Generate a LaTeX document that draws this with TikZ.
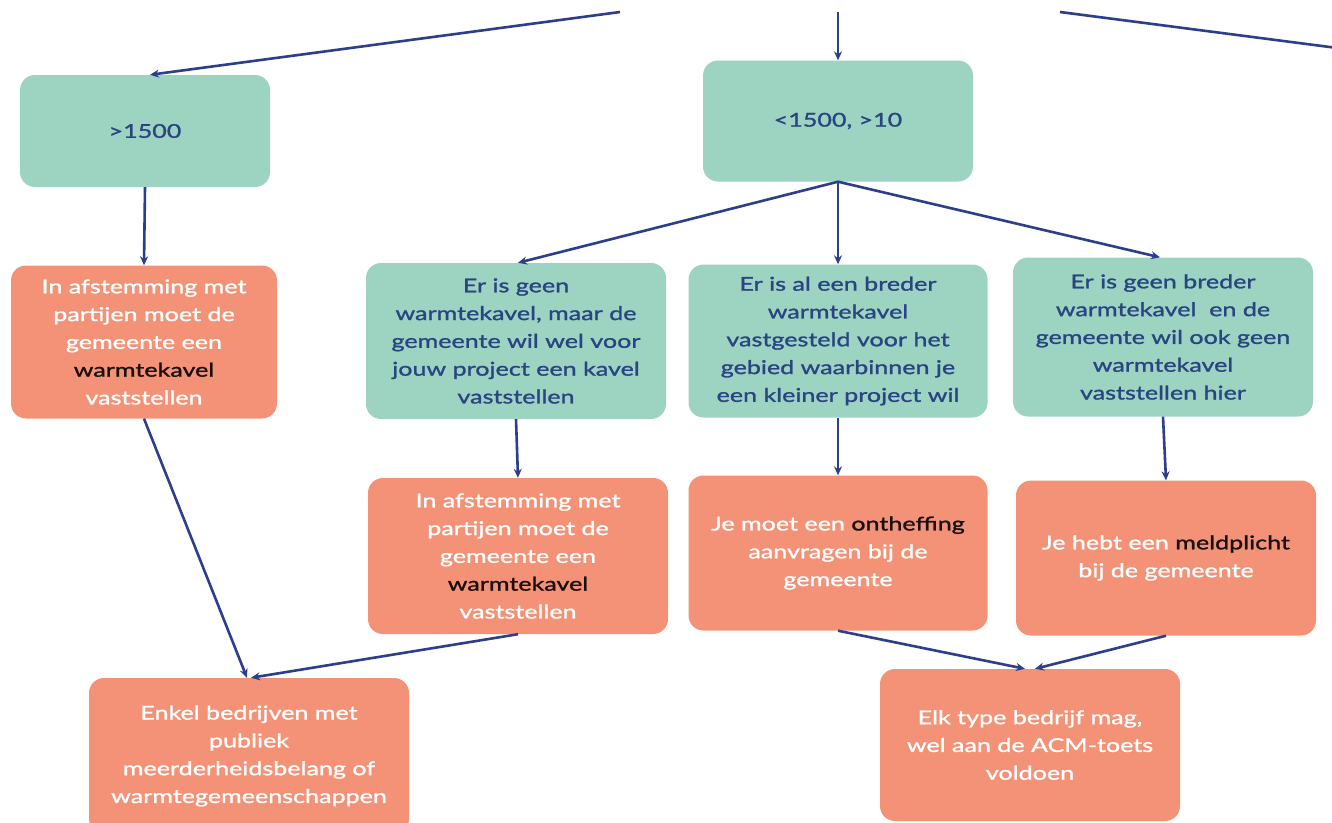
\documentclass[tikz,border=0pt]{standalone}
\usepackage{fontspec}
\setmainfont{Lato}[FakeStretch=1.32, FakeBold=1.3]
\usetikzlibrary{arrows.meta}
\definecolor{boxteal}{RGB}{157,212,193}
\definecolor{boxorange}{RGB}{243,146,118}
\definecolor{linkblue}{RGB}{45,62,140}
\definecolor{tealtext}{RGB}{40,68,130}
\definecolor{keytext}{RGB}{25,15,15}
\tikzset{
  box/.style={rounded corners=15pt, inner sep=0pt, align=center,
    font=\fontsize{19}{27.8}\selectfont},
  tealbox/.style={box, fill=boxteal, text=tealtext},
  orangebox/.style={box, fill=boxorange, text=white},
  link/.style={draw=linkblue, line width=2.6pt, -{Stealth[length=9pt,width=8pt]}},
}
\newcommand{\kw}[1]{\textcolor{keytext}{#1}}
\begin{document}
\begin{tikzpicture}[x=1pt,y=-1pt]
\useasboundingbox (0,0) rectangle (1332,822);
\clip (0,0) rectangle (1332,822);
\fill[white] (0,0) rectangle (1332,822);

\node[tealbox, minimum width=250pt, minimum height=112pt] (A) at (145,131) {>1500};
\node[tealbox, minimum width=270pt, minimum height=121pt] (B) at (838,121) {<1500, >10};

\node[orangebox, minimum width=266pt, minimum height=153pt] (C) at (144,342)
  {In afstemming met\\partijen moet de\\gemeente een\\\kw{warmtekavel}\\vaststellen};
\node[tealbox, minimum width=300pt, minimum height=156pt] (D) at (516,341)
  {Er is geen\\warmtekavel, maar de\\gemeente wil wel voor\\jouw project een kavel\\vaststellen};
\node[tealbox, minimum width=299pt, minimum height=153pt] (E) at (838,341)
  {Er is al een breder\\warmtekavel\\vastgesteld voor het\\gebied waarbinnen je\\een kleiner project wil};
\node[tealbox, minimum width=300pt, minimum height=159pt] (F) at (1163,337)
  {Er is geen breder\\warmtekavel\ \ en de\\gemeente wil ook geen\\warmtekavel\\vaststellen hier};

\node[orangebox, minimum width=300pt, minimum height=156pt] (G) at (518,556)
  {In afstemming met\\partijen moet de\\gemeente een\\\kw{warmtekavel}\\vaststellen};
\node[orangebox, minimum width=299pt, minimum height=155pt] (H) at (838,553)
  {Je moet een \kw{ontheffing}\\aanvragen bij de\\gemeente};
\node[orangebox, minimum width=300pt, minimum height=155pt] (I) at (1166,558)
  {Je hebt een \kw{meldplicht}\\bij de gemeente};

\node[orangebox, minimum width=320pt, minimum height=156pt] (J) at (249,756)
  {Enkel bedrijven met\\publiek\\meerderheidsbelang of\\warmtegemeenschappen};
\node[orangebox, minimum width=300pt, minimum height=152pt] (K) at (1030,745)
  {Elk type bedrijf mag,\\wel aan de ACM-toets\\voldoen};

\coordinate (t1) at (620,12);
\coordinate (t2) at (838,12);
\coordinate (t3) at (1060,12);
\coordinate (t4) at (1345,49);

\draw[link] (t1) -- ([xshift=5pt]A.north);
\draw[link] (t2) -- (B.north);
\draw[draw=linkblue, line width=2.6pt] (t3) -- (t4);

\draw[link] (A.south) -- (C.north);
\draw[link] (B.south) -- ([xshift=2pt]D.north);
\draw[link] (B.south) -- (E.north);
\draw[link] (B.south) -- ([xshift=-3pt]F.north);

\draw[link] (C.south) -- ([xshift=-2pt]J.north);
\draw[link] (D.south) -- (G.north);
\draw[link] (G.south) -- ([xshift=2pt]J.north);
\draw[link] (E.south) -- (H.north);
\draw[link] (F.south) -- (I.north);
\draw[link] (H.south) -- ([xshift=-5pt]K.north);
\draw[link] (I.south) -- ([xshift=5pt]K.north);
\end{tikzpicture}
\end{document}
